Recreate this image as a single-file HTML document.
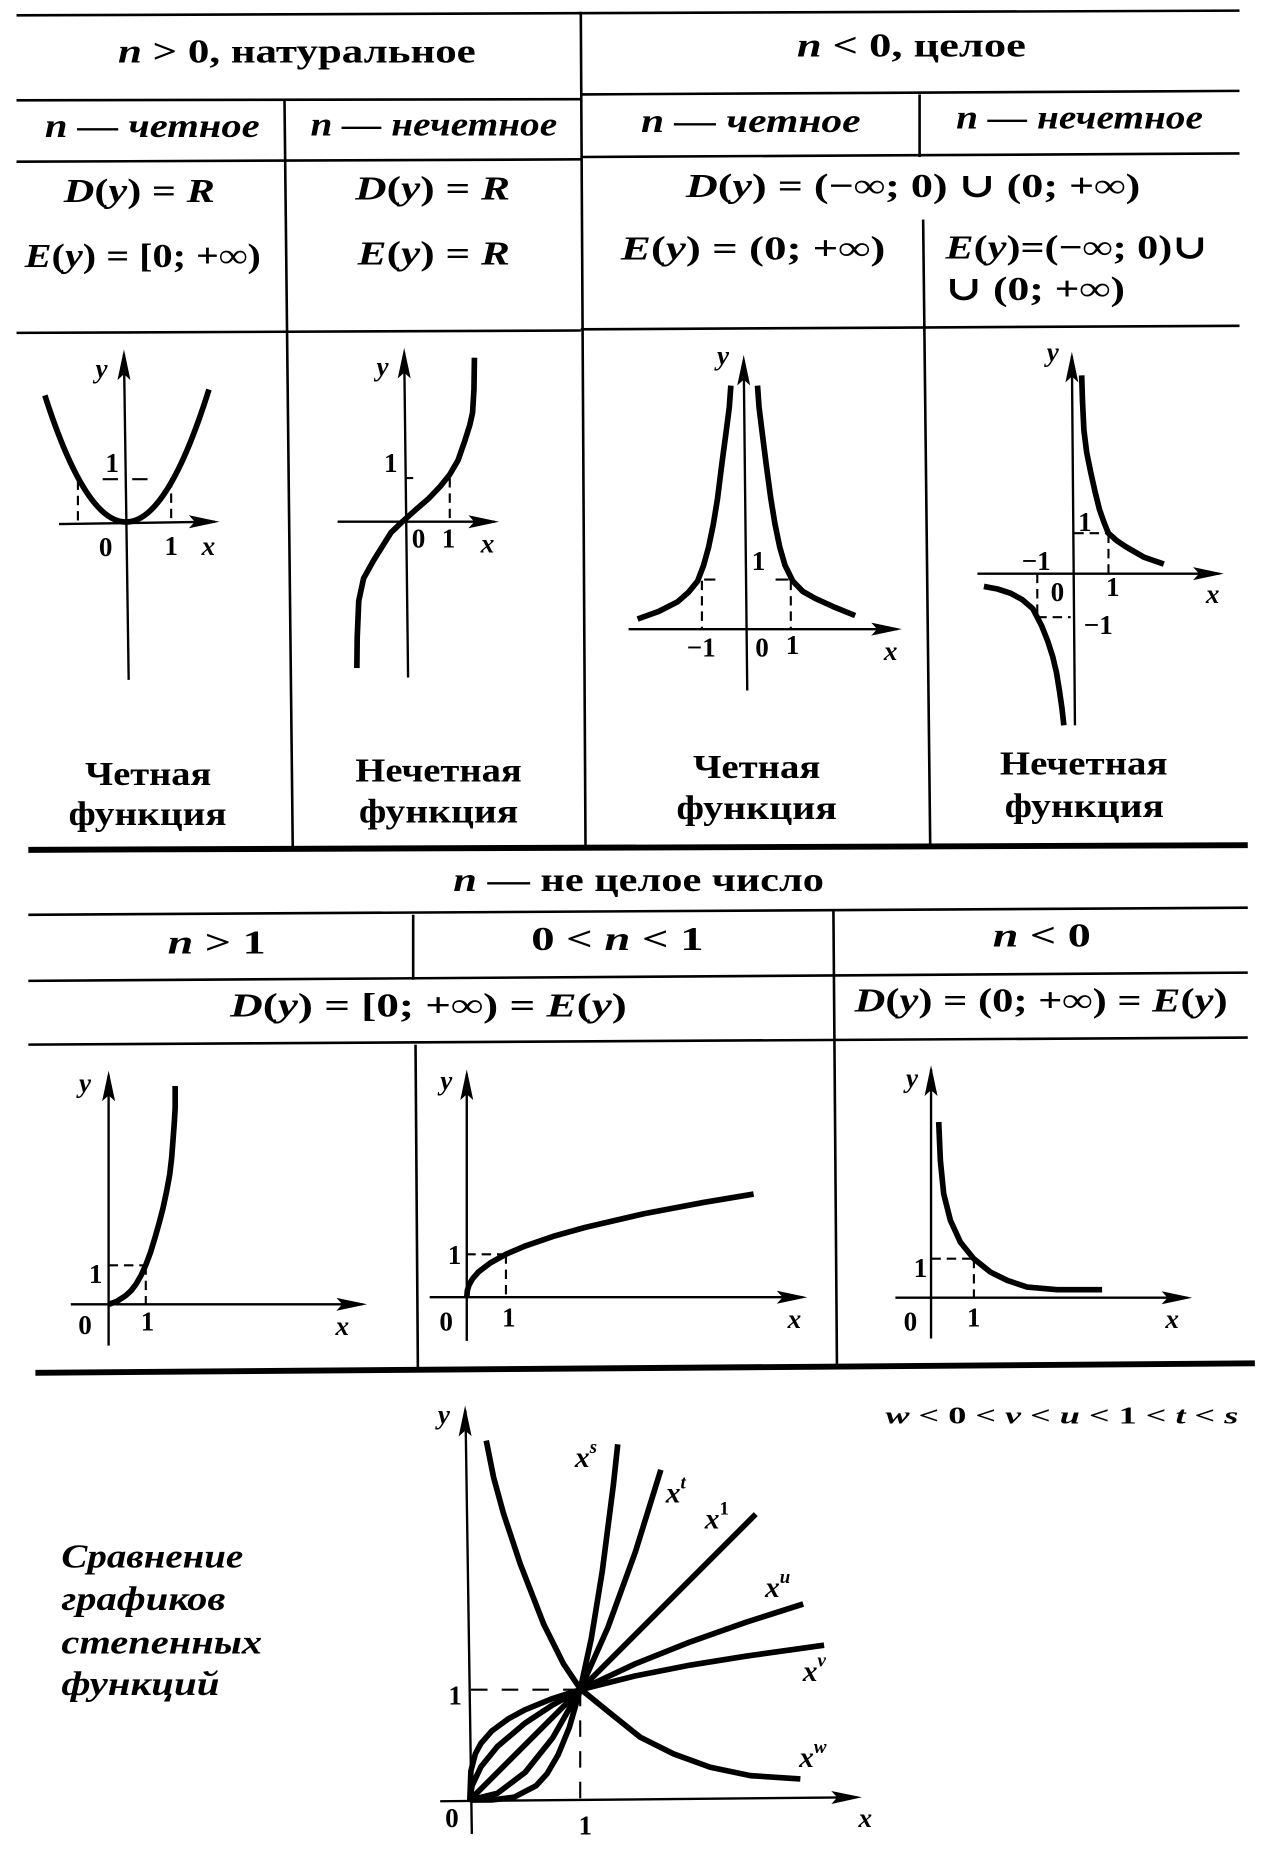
<!DOCTYPE html>
<html><head><meta charset="utf-8"><style>
html,body{margin:0;padding:0;background:#fff}
svg{display:block}
.t{font-family:"Liberation Serif","DejaVu Serif",serif;font-weight:bold;fill:#000}
.i{font-style:italic}
.ln{stroke:#000;stroke-width:2.2;fill:none}
.thk{stroke:#000;stroke-width:5;fill:none}
.ax{stroke:#000;stroke-width:2;fill:none}
.cv{stroke:#000;stroke-width:4.8;fill:none;stroke-linejoin:round;stroke-linecap:butt}
.ds{stroke:#000;stroke-width:1.8;fill:none;stroke-dasharray:8 5}
</style></head><body>
<svg width="1282" height="1852" viewBox="0 0 1086 1569" preserveAspectRatio="none" xmlns="http://www.w3.org/2000/svg">
<rect x="0" y="0" width="1086" height="1569" fill="#fff"/>

<!-- ===== TOP TABLE LINES ===== -->
<path class="ln" d="M14,13 L1050,9"/>
<path class="ln" d="M492,10 L496,719"/>
<path class="ln" d="M14,85 L492,84"/>
<path class="ln" d="M492,80 L1050,77"/>
<path class="ln" d="M14,137 L492,135"/>
<path class="ln" d="M492,133 L1050,130"/>
<path class="ln" d="M241,85 L248,719"/>
<path class="ln" d="M779,80 L779,133"/>
<path class="ln" d="M782,186 L788,717"/>
<path class="ln" d="M14,282 L492,280"/>
<path class="ln" d="M492,279 L1050,276"/>
<path class="thk" d="M24,720 L1057,716"/>

<!-- header texts -->
<text class="t" x="100" y="53" font-size="29" textLength="303" lengthAdjust="spacingAndGlyphs"><tspan class="i">n</tspan> &gt; 0, натуральное</text>
<text class="t" x="675" y="48" font-size="29" textLength="194" lengthAdjust="spacingAndGlyphs"><tspan class="i">n</tspan> &lt; 0, целое</text>
<text class="t i" x="38" y="116" font-size="29" textLength="182" lengthAdjust="spacingAndGlyphs">n — четное</text>
<text class="t i" x="263" y="115" font-size="29" textLength="209" lengthAdjust="spacingAndGlyphs">n — нечетное</text>
<text class="t i" x="543" y="112" font-size="29" textLength="186" lengthAdjust="spacingAndGlyphs">n — четное</text>
<text class="t i" x="810" y="109" font-size="29" textLength="209" lengthAdjust="spacingAndGlyphs">n — нечетное</text>

<text class="t" x="54" y="171" font-size="29" textLength="128" lengthAdjust="spacingAndGlyphs"><tspan class="i">D</tspan>(<tspan class="i">y</tspan>) = <tspan class="i">R</tspan></text>
<text class="t" x="21" y="226" font-size="29" textLength="200" lengthAdjust="spacingAndGlyphs"><tspan class="i">E</tspan>(<tspan class="i">y</tspan>) = [0; +∞)</text>
<text class="t" x="301" y="169" font-size="29" textLength="131" lengthAdjust="spacingAndGlyphs"><tspan class="i">D</tspan>(<tspan class="i">y</tspan>) = <tspan class="i">R</tspan></text>
<text class="t" x="303" y="224" font-size="29" textLength="129" lengthAdjust="spacingAndGlyphs"><tspan class="i">E</tspan>(<tspan class="i">y</tspan>) = <tspan class="i">R</tspan></text>
<text class="t" x="581" y="167" font-size="29" textLength="385" lengthAdjust="spacingAndGlyphs"><tspan class="i">D</tspan>(<tspan class="i">y</tspan>) = (−∞; 0) ∪ (0; +∞)</text>
<text class="t" x="526" y="220" font-size="29" textLength="224" lengthAdjust="spacingAndGlyphs"><tspan class="i">E</tspan>(<tspan class="i">y</tspan>) = (0; +∞)</text>
<text class="t" x="801" y="219" font-size="29" textLength="222" lengthAdjust="spacingAndGlyphs"><tspan class="i">E</tspan>(<tspan class="i">y</tspan>)=(−∞; 0)∪</text>
<text class="t" x="801" y="254" font-size="29" textLength="152" lengthAdjust="spacingAndGlyphs">∪ (0; +∞)</text>

<!-- captions -->
<text class="t" x="72" y="665" font-size="29" textLength="107" lengthAdjust="spacingAndGlyphs">Четная</text>
<text class="t" x="58" y="699" font-size="29" textLength="134" lengthAdjust="spacingAndGlyphs">функция</text>
<text class="t" x="301" y="662" font-size="29" textLength="141" lengthAdjust="spacingAndGlyphs">Нечетная</text>
<text class="t" x="304" y="697" font-size="29" textLength="135" lengthAdjust="spacingAndGlyphs">функция</text>
<text class="t" x="587" y="659" font-size="29" textLength="108" lengthAdjust="spacingAndGlyphs">Четная</text>
<text class="t" x="573" y="694" font-size="29" textLength="136" lengthAdjust="spacingAndGlyphs">функция</text>
<text class="t" x="847" y="656" font-size="29" textLength="142" lengthAdjust="spacingAndGlyphs">Нечетная</text>
<text class="t" x="851" y="692" font-size="29" textLength="135" lengthAdjust="spacingAndGlyphs">функция</text>

<!-- ===== GRAPH 1: parabola ===== -->
<path class="ax" d="M105,300 L109,576"/>
<polygon points="105,296 99.5,322 105,317 110.5,322"/>
<path class="ax" d="M50,444 L182,442"/>
<polygon points="186,442 160,436.5 165,442 160,447.5"/>
<path class="cv" d="M38,335 Q107.5,552 177,330"/>
<path class="ds" d="M66,407 L66,443"/>
<path class="ds" d="M145,405 L145,442"/>
<path class="ln" d="M87,406 L100,406 M112,406 L125,406" style="stroke-width:1.8"/>
<g class="t" font-size="23" text-anchor="middle">
<text x="86" y="320" class="i">y</text>
<text x="95" y="400">1</text>
<text x="89.5" y="471">0</text>
<text x="145" y="470">1</text>
<text x="176.5" y="470" class="i">x</text>
</g>

<!-- ===== GRAPH 2: cubic ===== -->
<path class="ax" d="M342.4,299 L345.7,574"/>
<polygon points="342.4,294.7 336.9,320.7 342.4,315.7 347.9,320.7"/>
<path class="ax" d="M286,442 L419,442"/>
<polygon points="422.8,442 396.8,436.5 401.8,442 396.8,447.5"/>
<path class="cv" d="M302.3,566 L302.6,540 L303.9,509 L308,490 L316.7,474.4 L331.2,451.2 L340.8,442 L352,432 L363.3,422.2 L373,412 L381,402 L388,390 L393.9,373 L398,360 L400.3,349.8 L401.5,330 L401.9,303"/>
<path class="ds" d="M381,405 L381,440"/>
<path class="ln" d="M344,405 L350,405" style="stroke-width:1.8"/>
<g class="t" font-size="23" text-anchor="middle">
<text x="324" y="318" class="i">y</text>
<text x="331" y="400">1</text>
<text x="354.5" y="464">0</text>
<text x="380" y="464">1</text>
<text x="413" y="468" class="i">x</text>
</g>

<!-- ===== GRAPH 3: 1/x^2 ===== -->
<path class="ax" d="M630,305 L633,585"/>
<polygon points="630,300.6 624.5,326.6 630,321.6 635.5,326.6"/>
<path class="ax" d="M532.5,533 L760,533"/>
<polygon points="764,533 738,527.5 743,533 738,538.5"/>
<path class="cv" d="M641.7,326.7 L643,345 L645.4,364.5 L649,393 L653,422.6 L656.5,444 L660.5,463.4 L665,479 L671.7,492.4 L680,501 L690.6,507 L706,514 L724.4,521.5"/>
<path class="cv" d="M619.1,326.7 L617.8,345 L615.3,364.5 L611.5,393 L607.8,422.6 L604.3,444 L600.3,463.4 L596,479 L590.9,492.4 L583,502 L573.9,509.9 L558,518 L540.1,524.4"/>
<path class="ds" d="M594.6,492 L594.6,533"/>
<path class="ds" d="M669.9,492 L669.9,533"/>
<path class="ln" d="M596.5,491 L606,491 M657,491 L668,491" style="stroke-width:1.8"/>
<g class="t" font-size="23" text-anchor="middle">
<text x="612.5" y="309" class="i">y</text>
<text x="642.6" y="483">1</text>
<text x="594" y="556">−1</text>
<text x="645.5" y="556">0</text>
<text x="671.4" y="554">1</text>
<text x="754.5" y="559" class="i">x</text>
</g>

<!-- ===== GRAPH 4: 1/x ===== -->
<path class="ax" d="M908,302 L910.6,614.5"/>
<polygon points="908,298 902.5,324 908,319 913.5,324"/>
<path class="ax" d="M828,486 L1033,486"/>
<polygon points="1036.7,486 1010.7,480.5 1015.7,486 1010.7,491.5"/>
<path class="cv" d="M916.3,318 L917,340 L918.2,364.5 L920.5,383 L923.8,399.4 L927.5,416 L931.3,431.4 L935,442 L938.9,451.7 L946,458 L953.9,463.3 L969,472 L985.9,477.9"/>
<path class="cv" d="M833.5,496.8 L845,499 L856.1,502.6 L866,508 L874.9,515.7 L882.4,530.2 L887.5,543 L891.8,556.4 L895,570 L897.5,585.4 L899.6,600 L901.2,614.5"/>
<path class="ds" d="M910,451.7 L939,451.7"/>
<path class="ds" d="M939,452 L939,486"/>
<path class="ds" d="M878.7,486 L878.7,522.9"/>
<path class="ds" d="M878.7,522.9 L907,522.9"/>
<g class="t" font-size="23" text-anchor="middle">
<text x="891.8" y="306" class="i">y</text>
<text x="919" y="450">1</text>
<text x="877.8" y="483">−1</text>
<text x="895.7" y="509">0</text>
<text x="942.7" y="505">1</text>
<text x="1027.3" y="511" class="i">x</text>
<text x="930.4" y="537">−1</text>
</g>

<!-- ===== MIDDLE TABLE ===== -->
<text class="t" x="384" y="755" font-size="29" textLength="314" lengthAdjust="spacingAndGlyphs"><tspan class="i">n</tspan> — не целое число</text>
<path class="ln" d="M24,775 L1057,769"/>
<path class="ln" d="M350,775 L350,830"/>
<path class="ln" d="M706,772 L709,1158"/>
<path class="ln" d="M24,831 L1057,824"/>
<path class="ln" d="M24,885 L1057,879"/>
<path class="ln" d="M352,885 L354,1161"/>
<path class="thk" d="M30,1163 L1063,1155"/>

<text class="t" x="142" y="808" font-size="29" textLength="83" lengthAdjust="spacingAndGlyphs"><tspan class="i">n</tspan> &gt; 1</text>
<text class="t" x="450" y="805" font-size="29" textLength="146" lengthAdjust="spacingAndGlyphs">0 &lt; <tspan class="i">n</tspan> &lt; 1</text>
<text class="t" x="841" y="802" font-size="29" textLength="83" lengthAdjust="spacingAndGlyphs"><tspan class="i">n</tspan> &lt; 0</text>
<text class="t" x="195" y="861" font-size="29" textLength="336" lengthAdjust="spacingAndGlyphs"><tspan class="i">D</tspan>(<tspan class="i">y</tspan>) = [0; +∞) = <tspan class="i">E</tspan>(<tspan class="i">y</tspan>)</text>
<text class="t" x="724" y="857" font-size="29" textLength="316" lengthAdjust="spacingAndGlyphs"><tspan class="i">D</tspan>(<tspan class="i">y</tspan>) = (0; +∞) = <tspan class="i">E</tspan>(<tspan class="i">y</tspan>)</text>

<!-- Graph A: n>1 -->
<path class="ax" d="M92,911 L92,1140"/>
<polygon points="92,907 86.5,933 92,928 97.5,933"/>
<path class="ax" d="M60,1105 L307,1105"/>
<polygon points="311,1105 285,1099.5 290,1105 285,1110.5"/>
<path class="cv" d="M92.2,1105 L99,1102.5 L106,1098 L111,1093.5 L115.2,1088 L119.5,1080.5 L123.5,1071.7 L127.5,1061 L131.3,1048.5 L135,1035.5 L138.2,1023 L141.2,1009 L143.8,994.8 L145.4,981 L146.5,966.6 L147.6,952 L148.4,938.4 L148.4,920"/>
<path class="ds" d="M92,1072 L123.5,1072"/>
<path class="ds" d="M123.5,1072 L123.5,1105"/>
<g class="t" font-size="23" text-anchor="middle">
<text x="72" y="925" class="i">y</text>
<text x="81" y="1087">1</text>
<text x="72" y="1130">0</text>
<text x="125" y="1127">1</text>
<text x="290" y="1131" class="i">x</text>
</g>

<!-- Graph B: 0<n<1 -->
<path class="ax" d="M395.4,910 L395.4,1136"/>
<polygon points="395.4,906 389.9,932 395.4,927 400.9,932"/>
<path class="ax" d="M364,1099 L680,1099"/>
<polygon points="684,1099 658,1093.5 663,1099 658,1104.5"/>
<path class="cv" d="M395.4,1099 L395.9,1093.3 L397.4,1088.4 L400.4,1083.2 L405.4,1077.5 L415.4,1069.9 L429,1062.4 L445.4,1055.4 L470.4,1046.9 L495.4,1039.9 L545.4,1028.3 L595.4,1018.8 L638.4,1011.6"/>
<path class="ds" d="M395,1062.6 L428.6,1062.6"/>
<path class="ds" d="M428.6,1062.6 L428.6,1099"/>
<g class="t" font-size="23" text-anchor="middle">
<text x="378" y="923" class="i">y</text>
<text x="385" y="1071">1</text>
<text x="378" y="1127">0</text>
<text x="431" y="1124">1</text>
<text x="673" y="1125" class="i">x</text>
</g>

<!-- Graph C: n<0 -->
<path class="ax" d="M788.7,906 L788.7,1134"/>
<polygon points="788.7,902.5 783.2,928.5 788.7,923.5 794.2,928.5"/>
<path class="ax" d="M758.5,1099.4 L1006,1099.4"/>
<polygon points="1010,1099.4 984,1093.9 989,1099.4 984,1104.9"/>
<path class="cv" d="M795.2,950.6 L796.6,983.1 L799.4,1011.3 L805.1,1033.9 L813.5,1052.3 L824.9,1066.4 L839,1077.7 L853.1,1084.7 L870.1,1090.4 L895.5,1092.6 L933.6,1092.6"/>
<path class="ds" d="M789,1066.4 L825,1066.4"/>
<path class="ds" d="M825,1066.4 L825,1099"/>
<g class="t" font-size="23" text-anchor="middle">
<text x="772.6" y="921" class="i">y</text>
<text x="779.7" y="1082">1</text>
<text x="771.2" y="1127">0</text>
<text x="824.8" y="1124">1</text>
<text x="993" y="1125" class="i">x</text>
</g>

<!-- ===== BOTTOM: comparison ===== -->
<g class="t i" font-size="29">
<text x="52" y="1328" textLength="154" lengthAdjust="spacingAndGlyphs">Сравнение</text>
<text x="52" y="1364" textLength="139" lengthAdjust="spacingAndGlyphs">графиков</text>
<text x="52" y="1401" textLength="170" lengthAdjust="spacingAndGlyphs">степенных</text>
<text x="52" y="1436" textLength="134" lengthAdjust="spacingAndGlyphs">функций</text>
</g>
<text class="t" x="750" y="1206" font-size="21" textLength="299" lengthAdjust="spacingAndGlyphs"><tspan class="i">w</tspan> &lt; 0 &lt; <tspan class="i">v</tspan> &lt; <tspan class="i">u</tspan> &lt; 1 &lt; <tspan class="i">t</tspan> &lt; <tspan class="i">s</tspan></text>

<path class="ax" d="M399.7,1553.7 L394.3,1195"/>
<polygon points="394,1190.7 388.5,1217 394.1,1212 399.5,1216.8"/>
<path class="ax" d="M372.9,1526 L726,1522.7"/>
<polygon points="730.2,1522.6 704.2,1517.3 709.2,1522.7 704.3,1528.3"/>
<path class="ds" d="M399,1431.5 L491.5,1431.5" style="stroke-dasharray:14 12"/>
<path class="ds" d="M491.5,1431.5 L491.5,1525" style="stroke-dasharray:14 12"/>

<!-- x^s -->
<path class="cv" d="M398,1525 L416.7,1524.9 L435.4,1522.6 L454.1,1512.9 L463.5,1502.6 L472.8,1486.7 L482.2,1463.7 L491.5,1431.5 L500.9,1388.1 L510.2,1331.1 L519.6,1258 L523.3,1223.6"/>
<!-- x^t -->
<path class="cv" d="M398,1525 L421.4,1519.2 L444.8,1501.6 L468.1,1472.4 L491.5,1431.5 L514.9,1378.9 L538.3,1314.6 L559.8,1245.2"/>
<!-- x^1 -->
<path class="cv" d="M398,1525 L640.2,1282.8"/>
<!-- x^u -->
<path class="cv" d="M398,1525 L399.9,1512.8 L407.4,1496.8 L421.4,1479.6 L444.8,1459.8 L468.1,1444.5 L491.5,1431.5 L538.3,1409.5 L585,1390.9 L631.8,1374.4 L680.4,1358.9"/>
<!-- x^v -->
<path class="cv" d="M398,1525 L398.9,1500.4 L402.7,1485.7 L407.4,1477 L416.7,1466.4 L430.7,1456.1 L444.8,1448.5 L468.1,1439 L491.5,1431.5 L538.3,1419.8 L585,1410.6 L631.8,1403.1 L698.1,1393.8"/>
<!-- x^w -->
<path class="cv" d="M411.9,1220.4 L418.1,1251.5 L426.6,1282.5 L440.7,1324.9 L460.5,1375.8 L477.4,1409.7 L491.6,1430.8 L514.2,1449.2 L542.4,1471.8 L570.7,1485.9 L601.7,1497.2 L635.6,1504.3 L678,1507.1"/>

<g class="t" font-size="23" text-anchor="middle">
<text x="376" y="1206" class="i">y</text>
<text x="385.6" y="1444">1</text>
<text x="382.8" y="1548">0</text>
<text x="495.8" y="1554">1</text>
<text x="733" y="1548" class="i">x</text>
</g>
<g class="t i">
<text x="487" y="1243" font-size="25">x<tspan font-size="16" dy="-12">s</tspan></text>
<text x="564" y="1273" font-size="25">x<tspan font-size="16" dy="-12">t</tspan></text>
<text x="597" y="1295" font-size="25">x<tspan font-size="16" dy="-12" font-style="normal">1</tspan></text>
<text x="648" y="1353" font-size="25">x<tspan font-size="16" dy="-12">u</tspan></text>
<text x="680" y="1424" font-size="25">x<tspan font-size="16" dy="-12">v</tspan></text>
<text x="677" y="1497" font-size="25">x<tspan font-size="16" dy="-12">w</tspan></text>
</g>
</svg>
</body></html>
